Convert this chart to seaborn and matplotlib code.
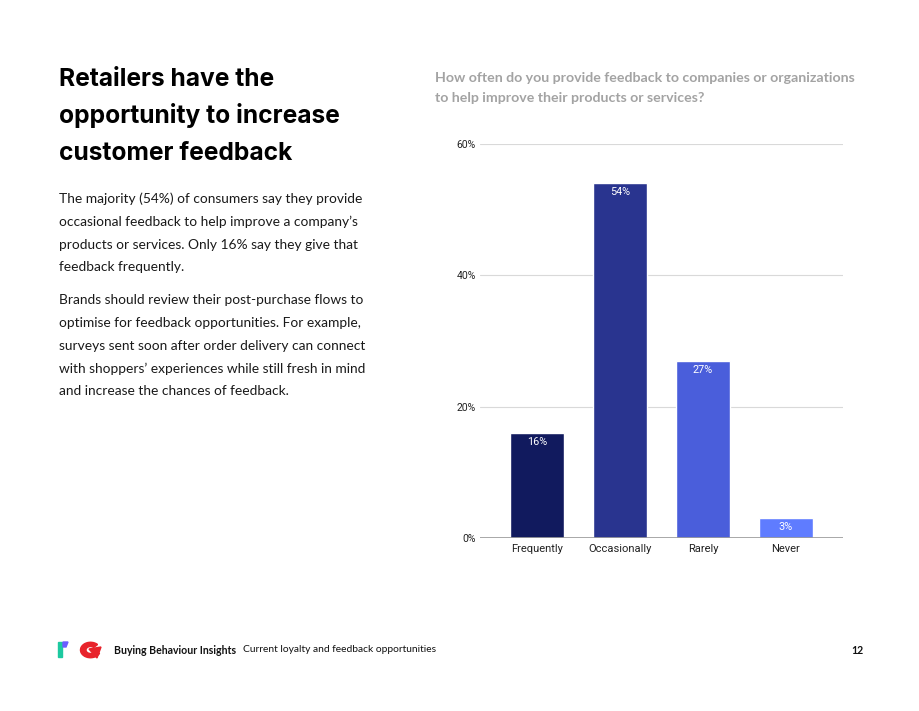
import matplotlib
matplotlib.use("Agg")
import matplotlib.pyplot as plt
import matplotlib.patches as mpatches
import seaborn as sns
import pandas as pd

# data
categories = ["Frequently", "Occasionally", "Rarely", "Never"]
shares = [16, 54, 27, 3]
bar_colors = ["#111a5e", "#29348f", "#4a5edb", "#5f7cff"]
yticks = [0, 20, 40, 60]

heading = ["Retailers have the", "opportunity to increase", "customer feedback"]
body = [
    "The majority (54%) of consumers say they provide",
    "occasional feedback to help improve a company\u2019s",
    "products or services. Only 16% say they give that",
    "feedback frequently.",
    None,
    "Brands should review their post-purchase flows to",
    "optimise for feedback opportunities. For example,",
    "surveys sent soon after order delivery can connect",
    "with shoppers\u2019 experiences while still fresh in mind",
    "and increase the chances of feedback.",
]
chart_title = ["How often do you provide feedback to companies or organizations",
               "to help improve their products or services?"]

df = pd.DataFrame({"answer": categories, "share": shares})

sns.set_theme(style="white")
plt.rcParams["font.family"] = ["Lato", "DejaVu Sans"]

W, H = 920, 711
fig = plt.figure(figsize=(W / 100, H / 100), dpi=100)


def fx(x):
    return x / W


def fy(y):
    return 1 - y / H


# chart
ax = fig.add_axes([fx(480), fy(538), fx(843) - fx(480), fy(144) - fy(538)])
sns.barplot(data=df, x="answer", y="share", hue="answer", palette=bar_colors,
            width=0.64, legend=False, ax=ax, saturation=1)
ax.set_ylim(0, 60)
ax.set_xlim(-0.687, 3.687)
ax.set_yticks(yticks)
ax.set_yticklabels([f"{v}%" for v in yticks], fontsize=7.5, color="#222222",
                   family="Roboto")
ax.tick_params(axis="y", length=0, pad=3)
ax.tick_params(axis="x", length=0, pad=4)
for lab in ax.get_xticklabels():
    lab.set_fontsize(8)
    lab.set_family("Roboto")
    lab.set_color("#222222")
ax.set_xlabel("")
ax.set_ylabel("")
for s in ax.spines.values():
    s.set_visible(False)
for v in yticks[1:]:
    ax.axhline(v, color="#d9d9d9", lw=0.8, zorder=0)
ax.axhline(0, color="#999999", lw=1.2, zorder=3)
for i, v in enumerate(shares):
    ax.annotate(f"{v}%", (i, v), xytext=(0, -6.5), textcoords="offset points",
                ha="center", va="center", color="white", fontsize=7.8,
                family="Roboto")

# chart title
for i, line in enumerate(chart_title):
    fig.text(fx(435), fy(78 + 20 * i), line, fontsize=10.15, fontweight="bold",
             color="#a3a3a3", va="center", ha="left")

# heading and body text
for i, line in enumerate(heading):
    fig.text(fx(59), fy(79 + 37 * i), line, fontsize=17.7, fontweight="bold",
             color="#000000", va="center", ha="left", family="Inter")
y = 199
for line in body:
    if line is None:
        y += 10
        continue
    fig.text(fx(59), fy(y), line, fontsize=9.9, color="#1a1a1a",
             va="center", ha="left")
    y += 22.8

# footer logos
fig.patches.append(mpatches.Rectangle((fx(58), fy(657)), fx(4.5), fy(642) - fy(657),
                                      transform=fig.transFigure, color="#1dc9a0"))
fig.patches.append(mpatches.Polygon([(fx(63), fy(647)), (fx(66), fy(647)),
                                     (fx(68), fy(642)), (fx(63), fy(642))],
                                    transform=fig.transFigure, color="#6a5cff"))
fig.patches.append(mpatches.Wedge((fx(90.5), fy(650)), fx(10), 45, 335, width=fx(5.5),
                                  transform=fig.transFigure, color="#e8232b"))
fig.patches.append(mpatches.Polygon([(fx(89), fy(649)), (fx(101), fy(647)),
                                     (fx(97), fy(658))],
                                    transform=fig.transFigure, color="#e8232b"))

fig.text(fx(114), fy(650), "Buying Behaviour Insights", fontsize=7.6,
         fontweight="bold", color="#111111", va="center", ha="left")
fig.text(fx(243), fy(650), "Current loyalty and feedback opportunities",
         fontsize=7.4, color="#111111", va="center", ha="left")
fig.text(fx(863), fy(650), "12", fontsize=7.6, fontweight="bold",
         color="#111111", va="center", ha="right")

fig.savefig("out.png", dpi=100, facecolor="white")
